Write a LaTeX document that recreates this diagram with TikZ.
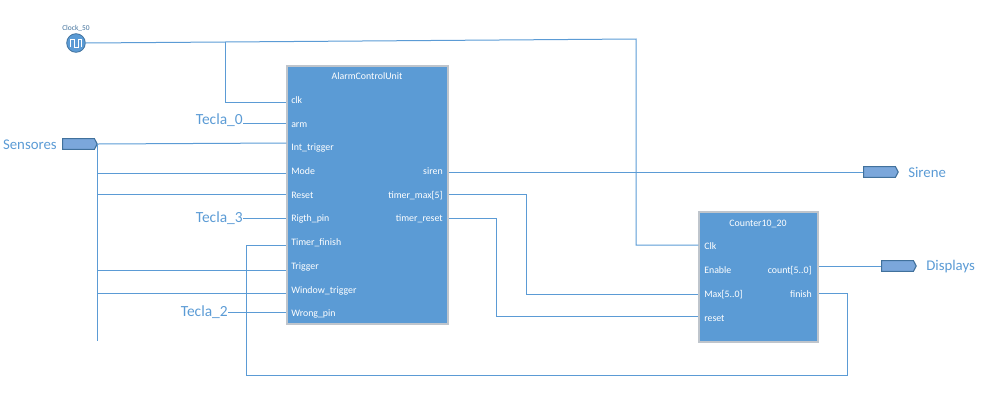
\documentclass[tikz,border=0pt]{standalone}
\usepackage{fontspec}
\setmainfont{Carlito}
\usepackage{tikz}
\usetikzlibrary{shapes.symbols, shadows}
\definecolor{blockblue}{HTML}{5B9BD5}
\definecolor{pinfill}{HTML}{7BA7DB}
\definecolor{pinline}{HTML}{41719C}
\definecolor{blockline}{HTML}{BFC5CC}
\tikzstyle{block}=[draw=blockline, fill=blockblue, line width=.8pt, inner sep=0pt, drop shadow={shadow xshift=.8pt, shadow yshift=-.8pt, opacity=.15, fill=blockblue}]
\tikzstyle{wire}=[draw=blockblue, line width=.75pt]
\tikzstyle{lab}=[text=white, font=\fontsize{7.4}{9}\selectfont, inner sep=0pt, text height=5pt, text depth=1.5pt, yshift=-.75pt]
\tikzstyle{port}=[signal, signal to=east, signal pointer angle=125, draw=pinline, fill=pinfill, line width=.8pt, minimum width=26pt, minimum height=8pt, inner sep=0pt]
\tikzstyle{sigtext}=[text=blockblue, font=\fontsize{11.1}{13}\selectfont, inner sep=0pt]
\tikzstyle{keytext}=[text=blockblue, font=\fontsize{11.6}{13}\selectfont, inner sep=0pt]
\begin{document}
\begin{tikzpicture}[x=.75pt, y=-.75pt]
  \useasboundingbox (0,0) rectangle (984,404);

  \node[block, minimum width=120.75pt, minimum height=193.5pt] (acu) at (367.5,195) {};
  \node[block, minimum width=89.25pt, minimum height=97.5pt] (cnt) at (758.5,277) {};
  \node[lab] (acutitle) at (367,76) {AlarmControlUnit};
  \node[lab] (cnttitle) at (758,223) {Counter10\_20};

  \foreach \n/\y/\w/\txt in {clk/100.5/102/clk, arm/124/123/arm, int/147/143/Int\_trigger, mode/171/173/Mode, reset/195/194/Reset, rigth/218/218/Rigth\_pin, tfin/242/245/Timer\_finish, trig/266/270/Trigger, win/290/293/Window\_trigger, wrong/313/312/Wrong\_pin}{
    \node[lab, anchor=west] (\n) at (291,\y) {\txt};
    \coordinate (\n-in) at (acu.west |- 0,\w);
  }
  \foreach \n/\y/\w/\txt in {siren/171/172/siren, tmax/195/194/timer\_max{[}5{]}, trst/218/218/timer\_reset}{
    \node[lab, anchor=east] (\n) at (443,\y) {\txt};
    \coordinate (\n-out) at (acu.east |- 0,\w);
  }
  \foreach \n/\y/\w/\txt in {cclk/246/245/Clk, cen/270/270/Enable, cmax/294/294/Max{[}5..0{]}, crst/318/316/reset}{
    \node[lab, anchor=west] (\n) at (704,\y) {\txt};
    \coordinate (\n-in) at (cnt.west |- 0,\w);
  }
  \foreach \n/\y/\w/\txt in {count/270/266/count{[}5..0{]}, cfin/294/293/finish}{
    \node[lab, anchor=east] (\n) at (812,\y) {\txt};
    \coordinate (\n-out) at (cnt.east |- 0,\w);
  }

  \node[circle, draw=pinline, fill=blockblue, line width=.6pt, minimum size=14pt, inner sep=0pt] (clock) at (76,43) {};
  \draw[white, line width=.7pt] (70.5,47) -- (70.5,39.5) -- (74,39.5) -- (74,47) -- (78,47) -- (78,39.5) -- (81.5,39.5) -- (81.5,47);
  \node[text=pinline, font=\fontsize{5.6}{6}\selectfont, inner sep=0pt] (clockname) at (76,28) {Clock\_50};

  \node[port] (sens) at (78.5,144) {};
  \node[port] (sirene) at (879.5,172) {};
  \node[port] (displays) at (897.5,266) {};
  \node[sigtext, anchor=east] (sensname) at (57,144.5) {Sensores};
  \node[sigtext, anchor=west] (sirenename) at (908,172) {Sirene};
  \node[sigtext, anchor=west] (dispname) at (926,266.5) {Displays};
  \node[keytext, anchor=east] (tecla0) at (243,120.5) {Tecla\_0};
  \node[keytext, anchor=east] (tecla3) at (243,218) {Tecla\_3};
  \node[keytext, anchor=east] (tecla2) at (228,312) {Tecla\_2};

  \coordinate (clkcorner) at (636,39);
  \coordinate (clkbranch) at (225,42);
  \coordinate (busend) at (sens.east |- 0,341);
  \coordinate (finbottom) at (847,375);
  \coordinate (finback) at (246,375);
  \coordinate (tmaxturn) at (526,194);
  \coordinate (trstturn) at (496,218);

  \draw[wire] (clock.east) -- (clkbranch) -- (clkcorner) |- (cclk-in);
  \draw[wire] (clkbranch) |- (clk-in);
  \draw[wire] (tecla0.east |- arm-in) -- (arm-in);
  \draw[wire] (tecla3.east) -- (rigth-in);
  \draw[wire] (tecla2.east |- wrong-in) -- (wrong-in);
  \draw[wire] (sens.east) -- (int-in);
  \draw[wire] (sens.east) -- (busend);
  \foreach \n in {mode, reset, trig, win}
    \draw[wire] (busend |- \n-in) -- (\n-in);
  \draw[wire] (siren-out) -- (sirene.west);
  \draw[wire] (tmax-out) -- (tmaxturn) |- (cmax-in);
  \draw[wire] (trst-out) -- (trstturn) |- (crst-in);
  \draw[wire] (count-out) -- (displays.west);
  \draw[wire] (cfin-out) -| (finbottom) -- (finback) |- (tfin-in);
\end{tikzpicture}
\end{document}
